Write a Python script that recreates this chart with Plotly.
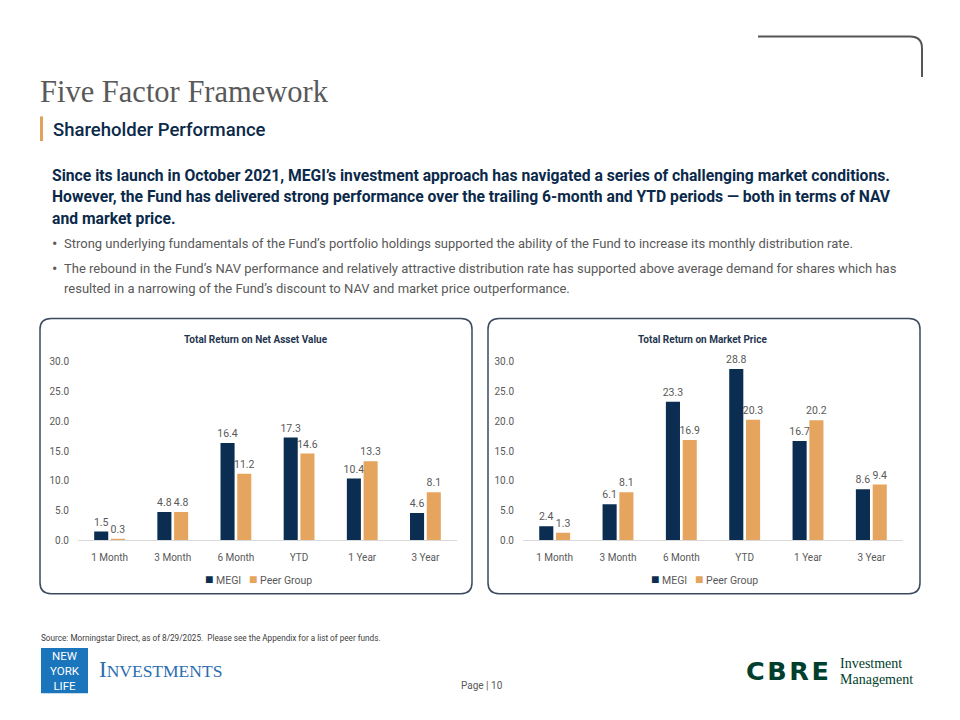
import plotly.graph_objects as go

# ---------------- data ----------------
periods = ["1 Month", "3 Month", "6 Month", "YTD", "1 Year", "3 Year"]
nav_megi = [1.5, 4.8, 16.4, 17.3, 10.4, 4.6]
nav_peer = [0.3, 4.8, 11.2, 14.6, 13.3, 8.1]
mkt_megi = [2.4, 6.1, 23.3, 28.8, 16.7, 8.6]
mkt_peer = [1.3, 8.1, 16.9, 20.3, 20.2, 9.4]
series_names = ["MEGI", "Peer Group"]
chart_titles = ["Total Return on Net Asset Value", "Total Return on Market Price"]
y_ticks = [0, 5, 10, 15, 20, 25, 30]

NAVY = "#0b2d52"
TAN = "#e5a55e"
GRAY = "#595959"

W, H = 960, 720
def X(px):
    return px / W
def Y(py):
    return 1 - py / H

fig = go.Figure()

def add_chart(megi, peer, xa, ya):
    for name, vals, col in [(series_names[0], megi, NAVY), (series_names[1], peer, TAN)]:
        fig.add_trace(go.Bar(
            x=periods, y=vals, name=name, marker=dict(color=col, line=dict(width=0)),
            xaxis=xa, yaxis=ya, texttemplate="%{y:.1f}", textposition="outside",
            textfont=dict(size=10.5, color=GRAY, family="Roboto"),
            constraintext="none", cliponaxis=False, showlegend=False,
            hoverinfo="skip"))

add_chart(nav_megi, nav_peer, "x", "y")
add_chart(mkt_megi, mkt_peer, "x2", "y2")

ydom = [Y(543), Y(362)]
axis_font = dict(size=10, color=GRAY, family="Roboto")
xcommon = dict(showline=True, linecolor="#d9d9d9", linewidth=1, showgrid=False,
               zeroline=False, ticks="", tickfont=axis_font, ticklabelstandoff=8,
               fixedrange=True)
ycommon = dict(range=[0, 30], tickvals=y_ticks, tickformat=".1f", showgrid=False,
               zeroline=False, showline=False, tickfont=axis_font, ticklabelstandoff=8,
               domain=ydom, fixedrange=True)

fig.update_layout(
    width=W, height=H, margin=dict(l=0, r=0, t=0, b=0),
    paper_bgcolor="white", plot_bgcolor="rgba(0,0,0,0)",
    barmode="group", bargap=0.47, bargroupgap=0.16,
    font=dict(family="Roboto", color=GRAY),
    showlegend=False,
    xaxis=dict(domain=[X(78), X(457)], anchor="y", **xcommon),
    yaxis=dict(anchor="x", **ycommon),
    xaxis2=dict(domain=[X(523), X(903)], anchor="y2", **xcommon),
    yaxis2=dict(anchor="x2", **ycommon),
)

# ---------------- shapes ----------------
def rrect(x0, y0, x1, y1, r):
    rx, ry = r / W, r / H
    a, b, c, d = X(x0), Y(y0), X(x1), Y(y1)
    return (f"M {a+rx},{b} L {c-rx},{b} Q {c},{b} {c},{b-ry} "
            f"L {c},{d+ry} Q {c},{d} {c-rx},{d} L {a+rx},{d} Q {a},{d} {a},{d+ry} "
            f"L {a},{b-ry} Q {a},{b} {a+rx},{b} Z")

shapes = []
for (x0, x1) in [(40, 472), (488, 920)]:
    shapes.append(dict(type="path", xref="paper", yref="paper", path=rrect(x0, 318, x1, 597, 11),
                       line=dict(color="#3b4a5e", width=1.5), fillcolor="rgba(0,0,0,0)", layer="below"))
# top-right decorative corner line
shapes.append(dict(type="path", xref="paper", yref="paper",
                   path=f"M {X(758)},{Y(32)} L {X(910)},{Y(32)} Q {X(922)},{Y(32)} {X(922)},{Y(44)} L {X(922)},{Y(73)}",
                   line=dict(color="#555555", width=2)))
# orange accent bar
shapes.append(dict(type="rect", xref="paper", yref="paper", x0=X(40), x1=X(43), y0=Y(138), y1=Y(113),
                   fillcolor="#e0a35a", line=dict(width=0)))
# NYL logo box
shapes.append(dict(type="rect", xref="paper", yref="paper", x0=X(41), x1=X(88), y0=Y(698), y1=Y(652),
                   fillcolor="#1b75bc", line=dict(width=0)))
fig.update_layout(shapes=shapes)

# ---------------- text ----------------
ann = []
def text(px, py, s, size, color, family="Roboto", anchor="left", weight=None, **kw):
    f = dict(size=size, color=color, family=family)
    if weight:
        f["weight"] = weight
    ann.append(dict(x=X(px), y=Y(py), xref="paper", yref="paper", text=s, showarrow=False,
                    xanchor=anchor, yanchor="middle", font=f, **kw))

text(38, 88, "Five Factor Framework", 30.5, "#595959", family="Liberation Serif")
text(51, 127, "Shareholder Performance", 18.5, "#0b2a4a", weight=500)

para = [
    "Since its launch in October 2021, MEGI’s investment approach has navigated a series of challenging market conditions.",
    "However, the Fund has delivered strong performance over the trailing 6-month and YTD periods — both in terms of NAV",
    "and market price.",
]
for i, line in enumerate(para):
    text(50, 173 + i * 21.5, line, 15.7, "#0b2a4a", weight="bold")

bullets = [
    (242, "•", "Strong underlying fundamentals of the Fund’s portfolio holdings supported the ability of the Fund to increase its monthly distribution rate."),
    (267, "•", "The rebound in the Fund’s NAV performance and relatively attractive distribution rate has supported above average demand for shares which has"),
    (287, "", "resulted in a narrowing of the Fund’s discount to NAV and market price outperformance."),
]
for py, b, s in bullets:
    if b:
        text(50, py, b, 16, GRAY)
    text(62, py, s, 13, GRAY)

# chart titles and legends
for cx, title in [(256, chart_titles[0]), (702, chart_titles[1])]:
    text(cx, 339, title, 10, "#1f3550", weight="bold", anchor="center")
    leg = (f'<span style="color:{NAVY};font-size:14px">■</span> {series_names[0]}   '
           f'<span style="color:{TAN};font-size:14px">■</span> {series_names[1]}')
    text(cx + 2, 582, leg, 10.5, GRAY, anchor="center")

text(39, 642, "Source: Morningstar Direct, as of 8/29/2025.  Please see the Appendix for a list of peer funds.", 8.2, "#404040")
text(482, 690, "Page | 10", 10, GRAY, anchor="center")

# NYL logo text
text(64.5, 675, "NEW<br>YORK<br>LIFE", 11.5, "white", anchor="center", family="Roboto")
text(97, 674, '<span style="font-size:23px">I</span>NVESTMENTS', 17.5, "#2a6db0", family="Liberation Serif")

# CBRE logo
text(744, 675, "C\u200aB\u200aR\u200aE", 25.5, "#003f2d", family="DejaVu Sans", weight="bold")
text(838, 668, "Investment", 14, "#003f2d", family="Liberation Serif")
text(838, 684, "Management", 14, "#003f2d", family="Liberation Serif")

fig.update_layout(annotations=ann)

fig.write_html("out.html", config={"displayModeBar": False},
               post_script="document.body.style.margin='0px';")
